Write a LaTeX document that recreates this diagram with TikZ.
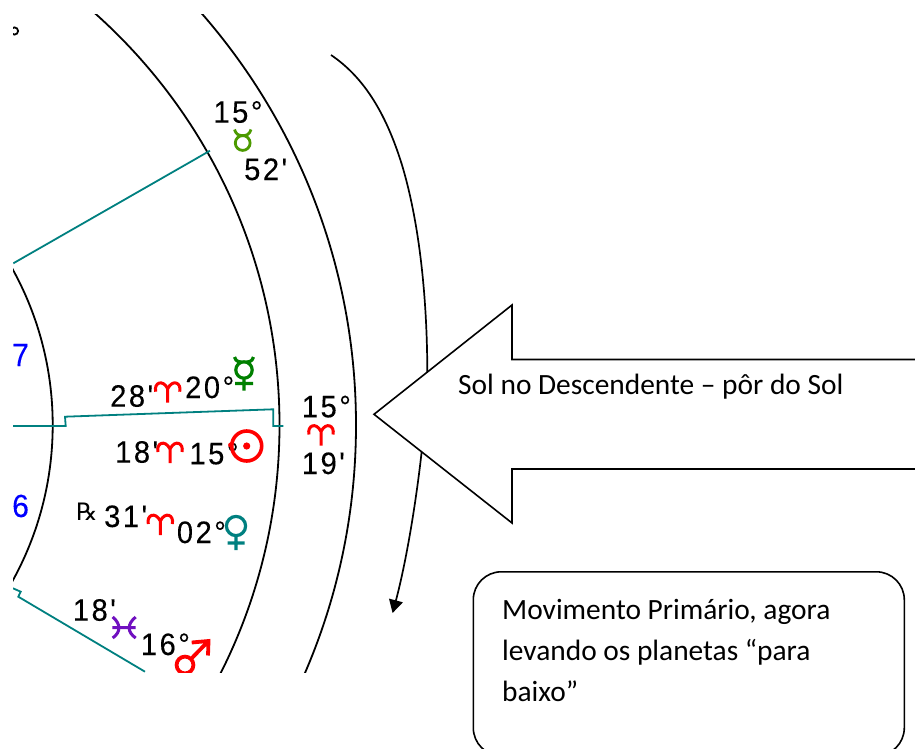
\documentclass[tikz,border=0pt]{standalone}
\usepackage{fontspec}
\usetikzlibrary{arrows.meta}
\setmainfont{Carlito}
\newfontfamily\chartfont[LetterSpace=8,FakeStretch=0.94,FakeBold=0.15]{Liberation Sans}
\newfontfamily\rxfont{DejaVu Sans}
\definecolor{chartteal}{HTML}{008080}
\definecolor{signred}{HTML}{FF0000}
\definecolor{mercgreen}{HTML}{008000}
\definecolor{taurgreen}{HTML}{4C9A00}
\definecolor{piscviolet}{HTML}{7010C0}
\tikzset{
  ring/.style={draw=black,line width=1.8pt},
  cusp/.style={draw=chartteal,line width=1.8pt},
  deg/.style={inner sep=0pt,anchor=base west,font=\fontsize{31}{31}\selectfont\chartfont,text=black},
  housenum/.style={inner sep=0pt,anchor=base west,font=\fontsize{32}{32}\selectfont\chartfont,text=blue},
  callout/.style={inner sep=0pt,anchor=base west,font=\fontsize{29.4}{41}\selectfont,text=black,align=left},
  glyph/.style={line width=2.8pt,line cap=butt,fill=none},
  aries/.pic={\draw[glyph,signred,line width=3pt] (-12,10) .. controls (-14,1) and (-5,-3) .. (0,7) -- (0,21) (0,7) .. controls (5,-3) and (14,1) .. (12,10);},
}
\begin{document}
\begin{tikzpicture}[x=1pt,y=-1pt]
\clip (0,0) rectangle (915,749);
\fill[white] (0,0) rectangle (915,749);
% chart, cut off by its frame
\begin{scope}
  \clip (13,15) rectangle (915,672);
  \draw[ring] (-269.7,425) circle (322.4);
  \draw[ring] (-272,425) circle (551.5);
  \draw[ring] (-270,425) circle (626);
  \draw[line width=1.8pt] (14.5,31) circle (3.6);
  % cusps
  \draw[cusp] (13.3,263.3) -- (210,150.7);
  \draw[cusp] (13,426) -- (65.7,426) -- (65,416.7) -- (273.3,409.3) -- (273.3,426) -- (283.3,426);
  \draw[cusp] (13,588.3) -- (20.7,591.7) -- (18.3,596.7) -- (145,671.7);
  % house numbers
  \node[housenum] (h7) at (12,366) {7};
  \node[housenum] (h6) at (12,517) {6};
  % cusp at top
  \node[deg] (t15) at (213.3,122.7) {15°};
  \node[deg] (t52) at (244,180) {52'};
  \draw[glyph,taurgreen] (242.7,143) circle (7.4);
  \draw[glyph,taurgreen] (234.5,129.5) .. controls (236,134) and (238,135.6) .. (242.7,135.6) .. controls (247.4,135.6) and (249.4,134) .. (251,129.5);
  % mercury
  \node[deg] (m28) at (110,406.7) {28'};
  \pic at (167.7,381.7) {aries};
  \node[deg] (m20) at (185,398) {20°};
  \draw[glyph,mercgreen,line width=3.2pt] (244,370) circle (8.2)
     (234.5,357) .. controls (236,362) and (239,362) .. (244,362) .. controls (249,362) and (252,362) .. (253.5,357)
     (244,378) -- (244,390.5) (235,383.5) -- (253,383.5);
  % sun
  \node[deg] (s18) at (115,462.7) {18'};
  \pic at (170,442) {aries};
  \node[deg] (s15) at (189.3,464.3) {15°};
  \draw[signred,line width=3.6pt] (246.7,446) circle (15);
  \fill[signred] (246.7,446) circle (3.6);
  \fill[signred] (230.7,445) circle (2.6);
  % descendant
  \node[deg] (d15) at (301.7,417.3) {15°};
  \pic at (321,424.5) {aries};
  \node[deg] (d19) at (301.7,474) {19'};
  % venus
  \node[font=\fontsize{24}{24}\selectfont\rxfont,inner sep=0pt,anchor=base west] (rx) at (76,520) {℞};
  \node[deg] (v31) at (104,527) {31'};
  \pic at (160.3,514) {aries};
  \node[deg] (v02) at (176.7,543) {02°};
  \draw[glyph,chartteal,line width=3.2pt] (236,526) circle (9.6)
     (236,535.6) -- (236,550) (227.5,543) -- (244.5,543);
  % mars
  \node[deg] (a18) at (72.7,620.7) {18'};
  \draw[glyph,piscviolet,line width=3pt] (112.7,617) .. controls (121,624) and (121,632) .. (112.7,638)
     (135.7,617) .. controls (127,624) and (127,632) .. (135.7,638)
     (112.3,627.7) -- (135.7,627.7);
  \node[deg] (a16) at (140.7,655) {16°};
  \draw[glyph,signred,line width=3.8pt] (185,665) circle (8.4)
     (191,659) -- (207,642.5) (191.7,642.5) -- (208.5,641) -- (208,655.5);
\end{scope}
% primary motion curve
\draw[line width=1.7pt,-{Triangle[length=13pt,width=14pt]}]
  (331,55) .. controls (362,76) and (385,110) .. (402,165)
  .. controls (420,225) and (427,300) .. (427.3,370)
  .. controls (427,430) and (412,540) .. (392.6,613);
% big arrow
\draw[fill=white,draw=black,line width=1.6pt]
  (930,359.5) -- (512,359.5) -- (512,305) -- (374,414.3) -- (512,523) -- (512,469) -- (930,469);
\node[callout] (sol) at (458,394.2) {Sol no Descendente – pôr do Sol};
% text box
\node[draw=black,line width=1.6pt,fill=white,rounded corners=28pt,minimum width=431pt,minimum height=184pt,inner sep=0pt,anchor=north west] (box) at (472.5,571) {};
\node[callout] (mov1) at (502,619) {Movimento Primário, agora};
\node[callout] (mov2) at (502,660) {levando os planetas “para};
\node[callout] (mov3) at (502,701) {baixo”};
\end{tikzpicture}
\end{document}
